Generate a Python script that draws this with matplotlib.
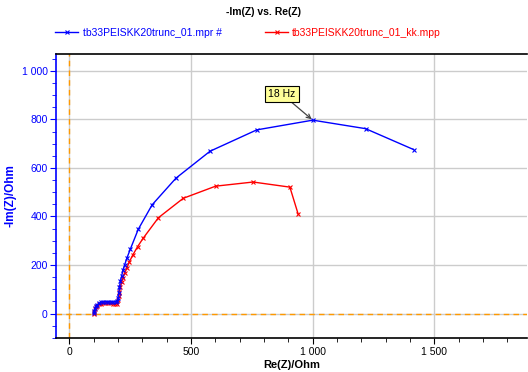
import matplotlib
matplotlib.use("Agg")
import matplotlib.pyplot as plt
from matplotlib.ticker import MultipleLocator, FuncFormatter

plt.rcParams['font.family'] = ['Liberation Sans', 'DejaVu Sans']

title = "-Im(Z) vs. Re(Z)"
label_blue = "tb33PEISKK20trunc_01.mpr #"
label_red = "tb33PEISKK20trunc_01_kk.mpp"

re_blue = [100, 103, 106, 110, 115, 122, 130, 140, 150, 160, 170, 180, 190, 197,
           200, 203, 206, 210, 215, 220, 227, 237, 250, 283, 340, 438, 578, 770,
           1000, 1217, 1414]
im_blue = [2, 12, 22, 30, 37, 42, 46, 48, 49, 49, 48, 48, 48, 50,
           65, 85, 110, 135, 155, 178, 200, 230, 264, 347, 448, 558, 669, 757,
           797, 762, 676]

re_red = [100, 102, 105, 109, 114, 121, 129, 138, 148, 158, 168, 178, 188, 196,
          200, 203, 206, 210, 215, 220, 227, 236, 246, 260, 280, 303, 366, 468,
          601, 755, 906, 940]
im_red = [-3, 8, 18, 26, 33, 38, 41, 43, 43, 43, 42, 41, 40, 41,
          55, 72, 90, 110, 130, 148, 168, 188, 212, 240, 275, 310, 395, 475,
          525, 542, 521, 410]

annot_text = "18 Hz"
annot_point = (1000, 797)

fig = plt.figure(figsize=(5.28, 3.72), dpi=100)
ax = fig.add_axes([0.106, 0.092, 0.892, 0.763])

ax.set_xlim(-55, 1880)
ax.set_ylim(-100, 1070)

ax.grid(True, which='major', color='#cccccc', lw=1)
ax.set_axisbelow(True)
ax.axhline(0, color='#ff9900', ls=(0, (4, 3)), lw=1, zorder=1.5)
ax.axvline(0, color='#ff9900', ls=(0, (4, 3)), lw=1, zorder=1.5)

lb, = ax.plot(re_blue, im_blue, color='#0000ff', lw=1, marker='x', ms=3.5, mew=0.8, zorder=3)
lr, = ax.plot(re_red, im_red, color='#ff0000', lw=1, marker='x', ms=3.5, mew=0.8, zorder=2.5)

ax.xaxis.set_major_locator(MultipleLocator(500))
ax.xaxis.set_minor_locator(MultipleLocator(100))
ax.yaxis.set_major_locator(MultipleLocator(200))
ax.yaxis.set_minor_locator(MultipleLocator(50))

fmt = FuncFormatter(lambda v, p: f"{int(round(v)):,}".replace(",", " "))
ax.xaxis.set_major_formatter(fmt)
ax.yaxis.set_major_formatter(fmt)

ax.tick_params(axis='x', which='major', length=4, labelsize=7.5, colors='black', pad=3)
ax.tick_params(axis='x', which='minor', length=3)
ax.tick_params(axis='y', which='major', length=4, labelsize=7.5, colors='#0000ff', labelcolor='#0000ff', pad=2)
ax.tick_params(axis='y', which='minor', length=3, colors='#0000ff')

ax.spines['left'].set_color('#0000ff')
ax.spines['left'].set_linewidth(1.2)
ax.spines['right'].set_visible(False)
ax.spines['top'].set_linewidth(1.2)
ax.spines['bottom'].set_linewidth(1.2)

ax.set_xlabel("Re(Z)/Ohm", fontsize=8, fontweight='bold', labelpad=2)
ax.set_ylabel("-Im(Z)/Ohm", fontsize=8.5, fontweight='bold', color='#0000ff')
ax.yaxis.set_label_coords(-0.083, 0.5)

fig.text(0.5, 0.967, title, ha='center', va='center', fontsize=7.5, fontweight='bold')

leg = fig.legend([lb, lr], [label_blue, label_red], loc='center left', bbox_to_anchor=(0.105, 0.912),
                 ncol=2, frameon=False, fontsize=7.5, handlelength=2.2, columnspacing=4.2,
                 handletextpad=0.4, borderaxespad=0, borderpad=0)
for t, c in zip(leg.get_texts(), ['#0000ff', '#ff0000']):
    t.set_color(c)

ax.annotate(annot_text, xy=annot_point, xytext=(873, 905), fontsize=7.5,
            ha='center', va='center',
            bbox=dict(boxstyle='square,pad=0.3', fc='#ffff99', ec='black', lw=0.8),
            arrowprops=dict(arrowstyle='->', color='#444444', lw=0.9, shrinkA=0, shrinkB=1),
            zorder=5)

fig.savefig("out.png", dpi=100)
